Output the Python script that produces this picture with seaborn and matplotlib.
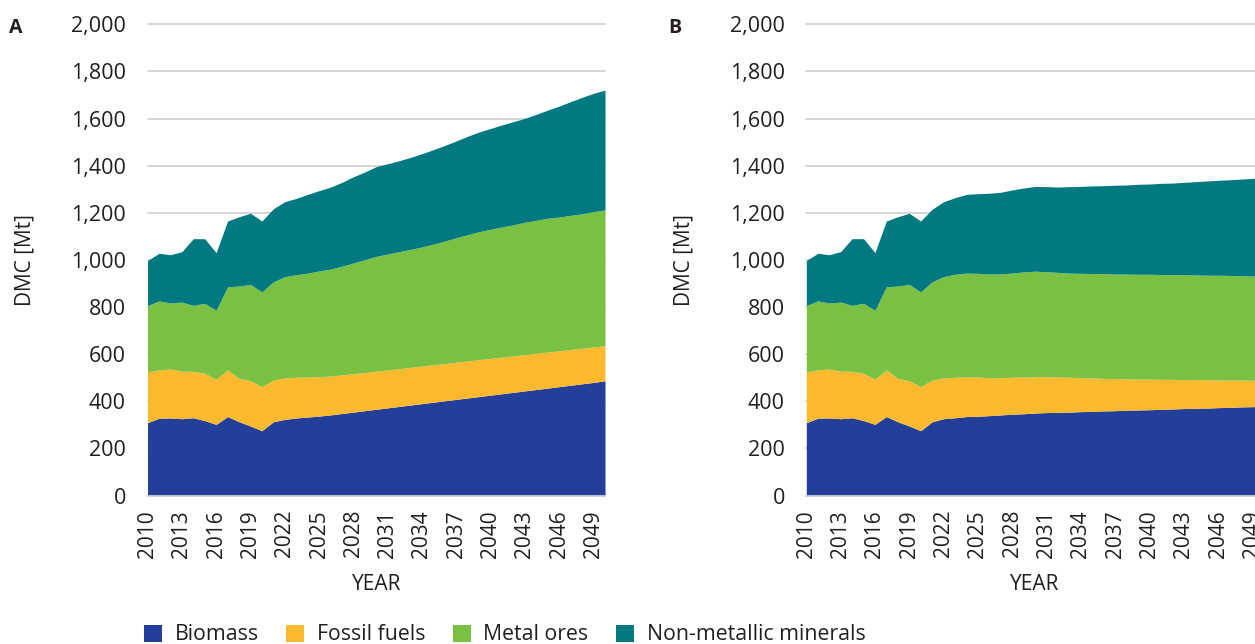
import numpy as np
import matplotlib
matplotlib.use("Agg")
import matplotlib.pyplot as plt
from matplotlib.patches import Patch
from matplotlib.ticker import FuncFormatter
import seaborn as sns

# ---------------- data ----------------
years = list(range(2010, 2051))
categories = ["Biomass", "Fossil fuels", "Metal ores", "Non-metallic minerals"]

# Panel A
biomass_a = [309, 328, 329, 326, 330, 318, 302, 335, 313, 295, 275, 313, 323, 329, 333, 337,
             342, 348, 354, 360, 366, 372, 378, 384, 390, 396, 402, 408, 414, 420, 426, 432,
             438, 444, 450, 456, 462, 468, 474, 480, 487]
fossil_a = [216, 205, 208, 202, 197, 201, 191, 198, 184, 192, 187, 177, 176, 173, 170, 167,
            165, 164, 163, 162, 162, 161, 160, 160, 159, 159, 158, 158, 157, 157, 156, 155,
            155, 154, 154, 153, 152, 152, 151, 151, 149]
metal_a = [281, 293, 280, 293, 280, 297, 293, 353, 392, 409, 402, 417, 430, 435, 441, 449,
           454, 461, 470, 479, 487, 492, 497, 501, 506, 512, 520, 528, 536, 543, 548, 553,
           556, 562, 564, 568, 568, 569, 571, 574, 576]
nonmet_a = [191, 202, 205, 214, 283, 274, 245, 279, 294, 302, 301, 310, 318, 324, 334, 341,
            348, 356, 366, 372, 381, 383, 386, 390, 396, 401, 406, 411, 418, 423, 428, 433,
            438, 441, 450, 459, 471, 483, 494, 502, 509]

# Panel B
biomass_b = [309, 328, 329, 326, 330, 318, 302, 335, 313, 295, 275, 313, 326, 330, 335, 336,
             339, 342, 345, 347, 350, 352, 353, 354, 356, 357, 359, 360, 362, 363, 364, 366,
             367, 369, 370, 371, 373, 374, 376, 377, 378]
fossil_b = [216, 205, 208, 202, 197, 201, 191, 198, 184, 192, 187, 177, 173, 172, 168, 167,
            161, 158, 157, 156, 154, 152, 150, 148, 144, 142, 138, 136, 133, 131, 130, 127,
            126, 123, 122, 120, 118, 116, 114, 112, 111]
metal_b = [281, 293, 280, 293, 280, 297, 293, 353, 392, 409, 402, 417, 430, 437, 441, 440,
           440, 441, 442, 446, 448, 446, 444, 442, 443, 443, 445, 444, 445, 445, 445, 445,
           444, 445, 444, 444, 444, 444, 443, 443, 442]
nonmet_b = [191, 202, 205, 214, 283, 274, 245, 279, 294, 302, 301, 308, 318, 325, 334, 338,
            343, 346, 353, 356, 360, 361, 362, 367, 369, 372, 373, 377, 378, 382, 383, 387,
            389, 392, 396, 400, 403, 406, 410, 414, 418]

y_ticks = list(range(0, 2001, 200))
x_ticks = list(range(2010, 2050, 3))
panel_labels = ["A", "B"]

colors = ["#233f99", "#fbb92f", "#7ac143", "#007a80"]

# ---------------- style ----------------
sns.set_theme(style="white")
plt.rcParams["font.family"] = ["Open Sans", "DejaVu Sans"]
palette = sns.color_palette(colors)

W, H = 1255, 644
fig = plt.figure(figsize=(W / 100, H / 100), dpi=100)
ax_w = 457.5 / W
ax_h = 471.2 / H
ax_b = 148.5 / H
axA = fig.add_axes([147.5 / W, ax_b, ax_w, ax_h])
axB = fig.add_axes([806.3 / W, ax_b, ax_w, ax_h])

text_color = "#231f20"
fmt = FuncFormatter(lambda v, p: f"{int(v):,}")

for ax, series, lab in [
    (axA, [biomass_a, fossil_a, metal_a, nonmet_a], panel_labels[0]),
    (axB, [biomass_b, fossil_b, metal_b, nonmet_b], panel_labels[1]),
]:
    ax.stackplot(years, *series, colors=palette, linewidth=0, zorder=1)
    ax.set_xlim(2010, 2050)
    ax.set_ylim(0, 2000)
    ax.set_yticks(y_ticks)
    ax.yaxis.set_major_formatter(fmt)
    for v in y_ticks[1:]:
        ax.axhline(v, color="#d2d2d2", lw=1.3, zorder=0.5, clip_on=False)
    ax.set_xticks(x_ticks)
    ax.set_xticklabels([str(t) for t in x_ticks], rotation=90)
    ax.tick_params(axis="x", direction="in", length=5, width=1.2, color="#d3d6e4",
                   pad=10.4, labelsize=15, labelcolor=text_color)
    ax.tick_params(axis="y", length=0, pad=15.5, labelsize=15.5, labelcolor=text_color)
    for s in ["top", "right", "left"]:
        ax.spines[s].set_visible(False)
    ax.spines["bottom"].set_color("#c8cce0")
    ax.spines["bottom"].set_linewidth(1.3)
    ax.set_ylabel("DMC [Mt]", fontsize=15, color=text_color, va="center")
    ax.yaxis.set_label_coords(-0.2667, 0.5)
    ax.set_xlabel("YEAR", fontsize=15, color=text_color, va="center")
    ax.xaxis.set_label_coords(0.5, -0.189)
    ax.text(-0.2874, 0.992, lab, transform=ax.transAxes, fontsize=14, fontweight="bold",
            color=text_color, ha="center", va="center")
    ax.grid(False)

handles = [Patch(facecolor=c, edgecolor="none") for c in palette]
fig.legend(handles, categories, loc="center left", bbox_to_anchor=(144 / W, 1 - 635 / H),
           ncol=4, frameon=False, fontsize=15.3, handlelength=0.85, handleheight=0.85,
           handletextpad=0.6, columnspacing=1.28, borderpad=0, borderaxespad=0,
           labelcolor=text_color)

fig.savefig("out.png", dpi=100)
